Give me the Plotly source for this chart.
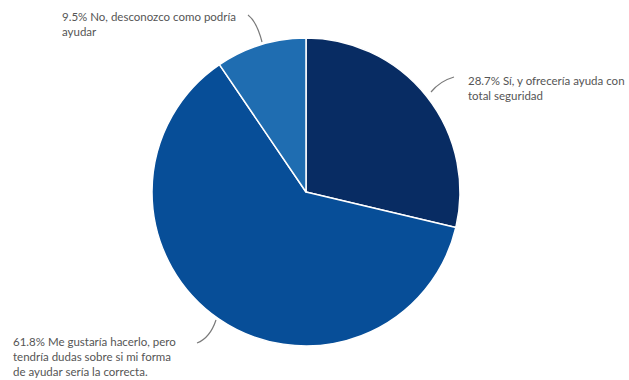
import plotly.graph_objects as go

labels = ["Sí, y ofrecería ayuda con total seguridad",
          "Me gustaría hacerlo, pero tendría dudas sobre si mi forma de ayudar sería la correcta.",
          "No, desconozco como podría ayudar"]
values = [28.7, 61.8, 9.5]
label_texts = ["28.7% Sí, y ofrecería ayuda con<br>total seguridad",
               "61.8% Me gustaría hacerlo, pero<br>tendría dudas sobre si mi forma<br>de ayudar sería la correcta.",
               "9.5% No, desconozco como podría<br>ayudar"]
colors = ["#082c63", "#074e98", "#1f6db1"]

W, H = 629, 380
def px(x): return x / W
def py(y): return 1 - y / H

fig = go.Figure(go.Pie(
    labels=labels, values=values, sort=False, direction="clockwise", rotation=0,
    marker=dict(colors=colors, line=dict(color="white", width=1.5)),
    textinfo="none", hoverinfo="label+percent", showlegend=False,
    domain=dict(x=[px(152), px(460)], y=[py(346), py(38)]),
))

font = dict(family="Lato, sans-serif", size=11.5, color="#555555")
ann = [
    (466, 72, label_texts[0]),
    (11, 333, label_texts[1]),
    (60, 8, label_texts[2]),
]
for x, y, t in ann:
    fig.add_annotation(x=px(x), y=py(y), xref="paper", yref="paper", text=t,
                       showarrow=False, xanchor="left", yanchor="top", align="left", font=font)

lines = [
    "M {} {} Q {} {} {} {}".format(px(454), py(77), px(440), py(81), px(431), py(92)),
    "M {} {} Q {} {} {} {}".format(px(216), py(320), px(210), py(338), px(197), py(343)),
    "M {} {} Q {} {} {} {}".format(px(248), py(15), px(257), py(22), px(262), py(42)),
]
for p in lines:
    fig.add_shape(type="path", path=p, xref="paper", yref="paper",
                  line=dict(color="#7a7a7a", width=1.2))

fig.update_layout(width=W, height=H, margin=dict(l=0, r=0, t=0, b=0),
                  paper_bgcolor="white", plot_bgcolor="white")
fig.write_html("out.html")
